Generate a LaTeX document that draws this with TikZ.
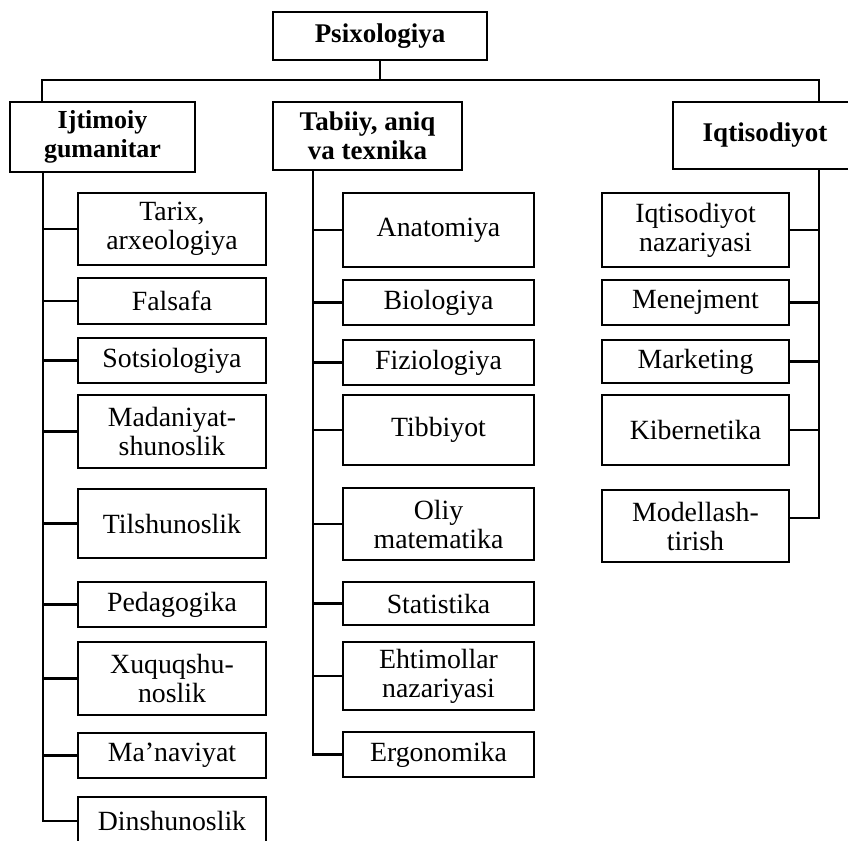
\documentclass[tikz,border=0pt]{standalone}
\usepackage{fontspec}
\setmainfont{Liberation Serif}
\begin{document}
\begin{tikzpicture}[x=1pt,y=-1pt,
  box/.style={draw, line width=2.6pt, align=center, inner sep=0pt, font=\fontsize{27.8}{29}\selectfont},
  head/.style={box, font=\fontsize{27}{29}\selectfont\bfseries},
  link/.style={line width=2.5pt}]
\useasboundingbox (0,0) rectangle (848,840);
\clip (0,0) rectangle (848,840);
% top level
\node[head, minimum width=214, minimum height=48] (psi) at (380,36) {Psixologiya};
\node[head, minimum width=185, minimum height=70, font=\fontsize{26}{29}\selectfont\bfseries] (ijt) at (102.5,137) {Ijtimoiy\\gumanitar};
\node[head, minimum width=189, minimum height=68] (tab) at (367.5,136) {Tabiiy, aniq\\va texnika};
\node[head, minimum width=184, minimum height=67] (iqt) at (765,135.5) {Iqtisodiyot};
\coordinate (bL) at (42,80);
\coordinate (bR) at (819,80);
\draw[link] (psi.south) -- (psi.south |- bL);
\draw[link] (ijt.north -| bL) -- (bL) -- (bR) -- (iqt.north -| bR);
% left column
\node[box, minimum width=188, minimum height=72] (tarix) at (172,229) {Tarix,\\arxeologiya};
\node[box, minimum width=188, minimum height=46] (fal) at (172,301) {Falsafa};
\node[box, minimum width=188, minimum height=45] (sots) at (172,360.5) {Sotsiologiya};
\node[box, minimum width=188, minimum height=73] (mad) at (172,431.5) {Madaniyat-\\shunoslik};
\node[box, minimum width=188, minimum height=69] (til) at (172,523.5) {Tilshunoslik};
\node[box, minimum width=188, minimum height=45] (ped) at (172,604.5) {Pedagogika};
\node[box, minimum width=188, minimum height=73] (xuq) at (172,678.5) {Xuquqshu-\\noslik};
\node[box, minimum width=188, minimum height=45] (man) at (172,755.5) {Ma’naviyat};
\node[box, minimum width=188, minimum height=48] (din) at (172,821) {Dinshunoslik};
\coordinate (sL) at (43,0);
\draw[link] (ijt.south -| sL) -- (din.west -| sL) -- (din.west);
\foreach \n in {tarix,fal,sots,mad,til,ped,xuq,man}
  \draw[link] (\n.west -| sL) -- (\n.west);
% middle column
\node[box, minimum width=191, minimum height=74] (ana) at (438.5,230) {Anatomiya};
\node[box, minimum width=191, minimum height=45] (bio) at (438.5,302.5) {Biologiya};
\node[box, minimum width=191, minimum height=45] (fiz) at (438.5,362.5) {Fiziologiya};
\node[box, minimum width=191, minimum height=70] (tib) at (438.5,430) {Tibbiyot};
\node[box, minimum width=191, minimum height=72] (oliy) at (438.5,524) {Oliy\\matematika};
\node[box, minimum width=191, minimum height=43] (stat) at (438.5,603.5) {Statistika};
\node[box, minimum width=191, minimum height=68] (eht) at (438.5,676) {Ehtimollar\\nazariyasi};
\node[box, minimum width=191, minimum height=45] (erg) at (438.5,754.5) {Ergonomika};
\coordinate (sM) at (313,0);
\draw[link] (tab.south -| sM) -- (erg.west -| sM) -- (erg.west);
\foreach \n in {ana,bio,fiz,tib,oliy,stat,eht}
  \draw[link] (\n.west -| sM) -- (\n.west);
% right column
\node[box, minimum width=187, minimum height=74] (iqn) at (695.5,230) {Iqtisodiyot\\nazariyasi};
\node[box, minimum width=187, minimum height=45] (men) at (695.5,302.5) {Menejment};
\node[box, minimum width=187, minimum height=43] (mar) at (695.5,361.5) {Marketing};
\node[box, minimum width=187, minimum height=70] (kib) at (695.5,430) {Kibernetika};
\node[box, minimum width=187, minimum height=72] (mod) at (695.5,526) {Modellash-\\tirish};
\coordinate (sR) at (819,0);
\coordinate (modc) at ([yshift=8pt]mod.east);
\draw[link] (iqt.south -| sR) -- (modc -| sR) -- (modc);
\foreach \n in {iqn,men,mar,kib}
  \draw[link] (\n.east) -- (\n.east -| sR);
\end{tikzpicture}
\end{document}
